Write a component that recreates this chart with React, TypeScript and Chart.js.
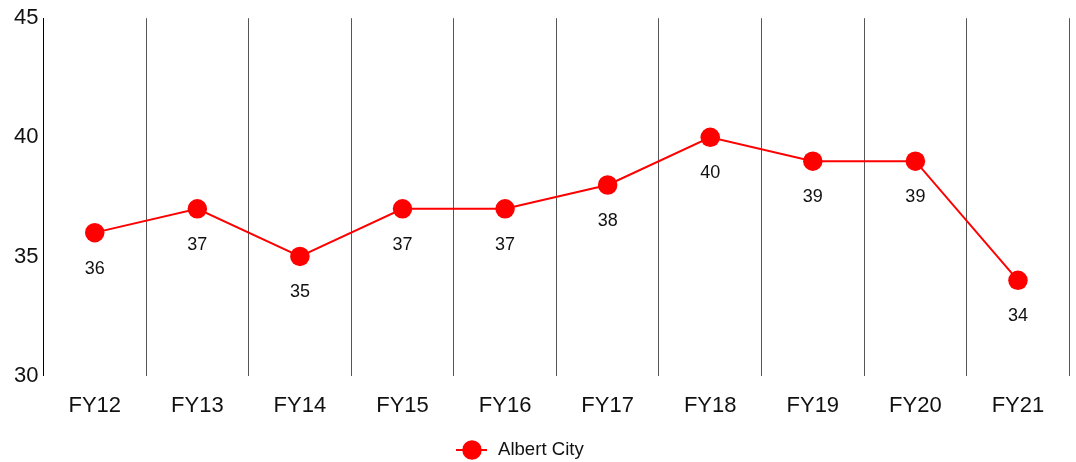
import React, { useEffect, useRef } from "react";
import { Chart, registerables } from "chart.js";

Chart.register(...registerables);

const categories = ["FY12", "FY13", "FY14", "FY15", "FY16", "FY17", "FY18", "FY19", "FY20", "FY21"];
const albertCity = [36, 37, 35, 37, 37, 38, 40, 39, 39, 34];
const seriesName = "Albert City";
const yMin = 30;
const yMax = 45;
const yStep = 5;

const FONT = "'Liberation Sans', Arial, sans-serif";
const RED = "#ff0000";

const valueLabels = {
  id: "valueLabels",
  afterDatasetsDraw(chart: any) {
    const ctx = chart.ctx;
    ctx.save();
    ctx.font = `18px ${FONT}`;
    ctx.fillStyle = "#111";
    ctx.textAlign = "center";
    ctx.textBaseline = "middle";
    chart.data.datasets.forEach((ds: any, di: number) => {
      const meta = chart.getDatasetMeta(di);
      meta.data.forEach((pt: any, i: number) => {
        ctx.fillText(String(ds.data[i]), pt.x, pt.y + 36);
      });
    });
    ctx.restore();
  },
};

const bottomLegend = {
  id: "bottomLegend",
  afterDraw(chart: any) {
    const ctx = chart.ctx;
    const ds = chart.data.datasets[0];
    const y = chart.height - 12;
    const left = chart.width / 2 - 83.5;
    ctx.save();
    ctx.strokeStyle = ds.borderColor;
    ctx.lineWidth = 2;
    ctx.beginPath();
    ctx.moveTo(left, y);
    ctx.lineTo(left + 31, y);
    ctx.stroke();
    ctx.fillStyle = ds.pointBackgroundColor;
    ctx.beginPath();
    ctx.arc(left + 16, y, 9.75, 0, Math.PI * 2);
    ctx.fill();
    ctx.font = `18.6px ${FONT}`;
    ctx.fillStyle = "#111";
    ctx.textAlign = "left";
    ctx.textBaseline = "middle";
    ctx.fillText(ds.label, left + 42, y);
    ctx.restore();
  },
};

export default function App() {
  const ref = useRef<HTMLCanvasElement>(null);
  useEffect(() => {
    document.body.style.margin = "0";
    const chart = new Chart(ref.current!, {
      type: "line",
      data: {
        labels: categories,
        datasets: [
          {
            label: seriesName,
            data: albertCity,
            borderColor: RED,
            backgroundColor: RED,
            borderWidth: 2,
            pointRadius: 9.75,
            pointBackgroundColor: RED,
            pointBorderColor: RED,
            pointBorderWidth: 0,
            tension: 0,
          },
        ],
      },
      options: {
        responsive: false,
        animation: false,
        layout: { padding: { top: 5, right: 0, left: 9, bottom: 26 } },
        plugins: {
          tooltip: { enabled: false },
          legend: { display: false },
        },
        scales: {
          x: {
            offset: true,
            grid: {
              display: true,
              offset: true,
              color: "#555",
              drawTicks: false,
            },
            border: { display: false },
            ticks: {
              color: "#111",
              font: { family: FONT, size: 22 },
              padding: 17,
            },
          },
          y: {
            min: yMin,
            max: yMax,
            grid: { display: false, drawTicks: false },
            border: { display: true, color: "#000", width: 1 },
            ticks: {
              stepSize: yStep,
              color: "#111",
              font: { family: FONT, size: 22 },
              padding: 5,
            },
          },
        },
      },
      plugins: [valueLabels, bottomLegend],
    });
    return () => chart.destroy();
  }, []);
  return (
    <div style={{ width: 1076, height: 462, overflow: "hidden" }}>
      <canvas ref={ref} width={1079} height={462} style={{ display: "block" }} />
    </div>
  );
}
